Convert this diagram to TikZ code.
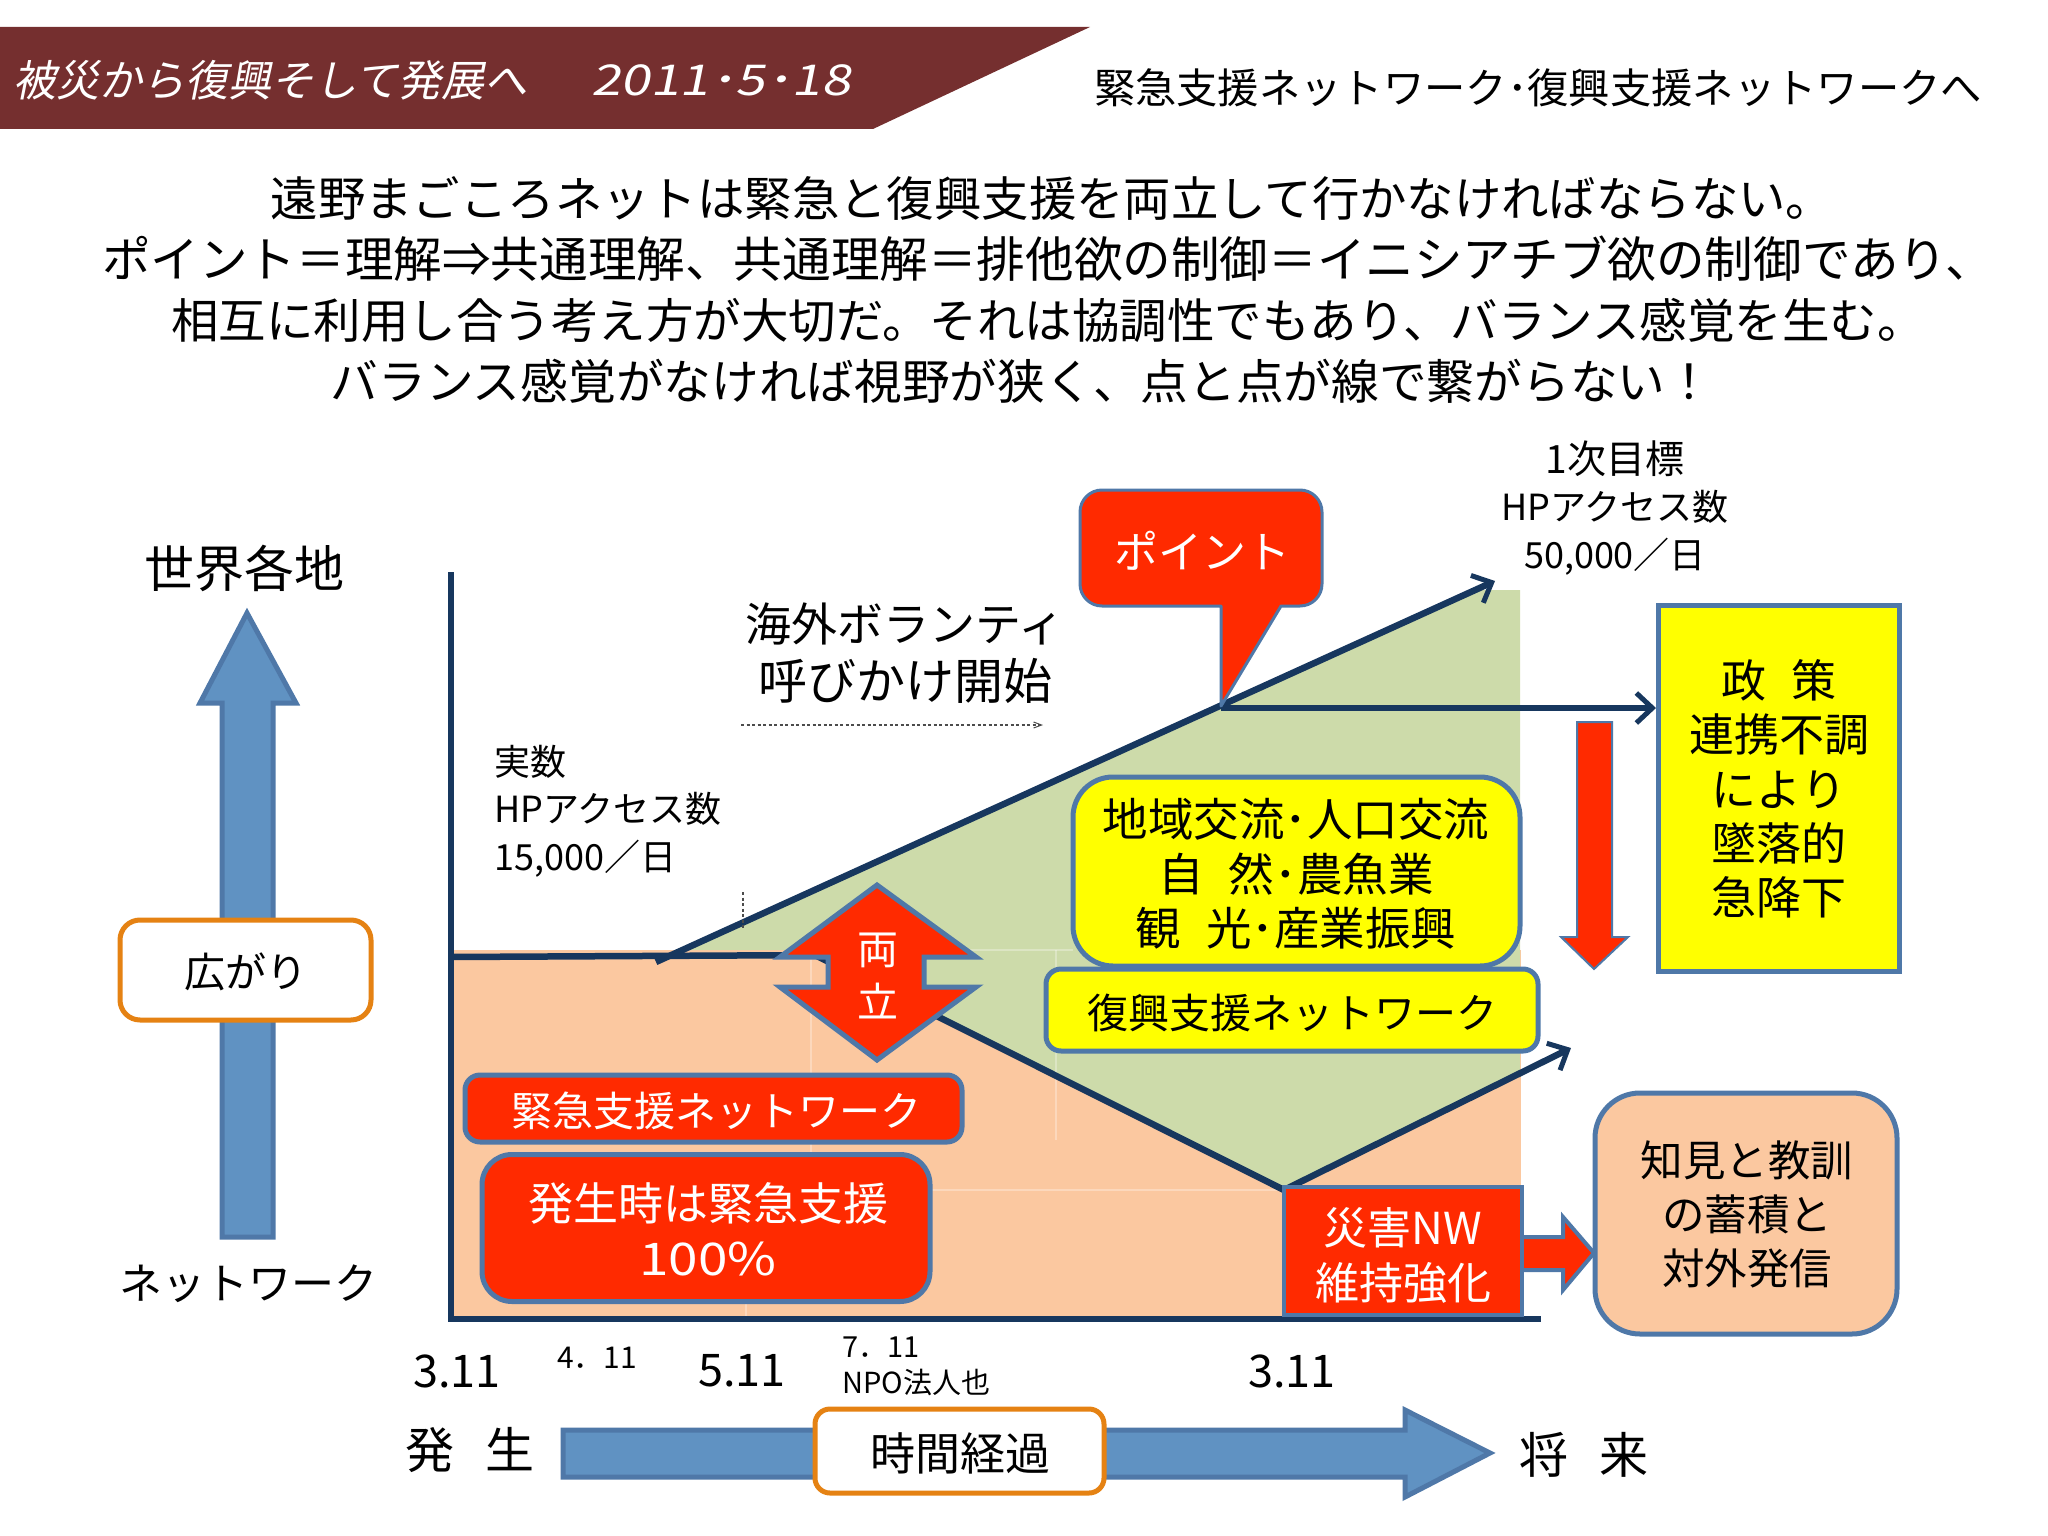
\documentclass[tikz,border=0pt]{standalone}
\usepackage{fontspec}
\setmainfont{Noto Sans CJK JP}
\newfontfamily\slantfont[FakeSlant=0.2]{Noto Sans CJK JP}
\newfontfamily\datefont[FakeSlant=0.2,FakeStretch=1.25]{Noto Sans CJK JP}
\newfontfamily\widefont[FakeStretch=1.18]{Noto Sans CJK JP}
\usetikzlibrary{arrows.meta}
\definecolor{navy}{HTML}{17375E}
\definecolor{edgeblue}{HTML}{4F78A8}
\definecolor{fillblue}{HTML}{6092C2}
\definecolor{alertred}{HTML}{FF2A00}
\definecolor{sigyellow}{HTML}{FFFF00}
\definecolor{peach}{HTML}{FBC8A0}
\definecolor{sage}{HTML}{CDDBAA}
\definecolor{wine}{HTML}{752F2F}
\definecolor{ringorange}{HTML}{E58213}
\newcommand{\fz}[2]{\fontsize{#1}{#2}\selectfont}
\tikzset{
  lbl/.style={inner sep=0pt,align=center,text=black},
  wlbl/.style={lbl,text=white},
  llbl/.style={inner sep=0pt,align=left,anchor=west,text=black},
  rbox/.style={draw=edgeblue,line width=5pt,fill=alertred,rounded corners=#1,inner sep=0pt},
  ybox/.style={draw=edgeblue,line width=5pt,fill=sigyellow,rounded corners=#1,inner sep=0pt},
  wbox/.style={draw=ringorange,line width=5pt,fill=white,rounded corners=#1,inner sep=0pt},
  navyline/.style={draw=navy,line width=6.5pt},
  barb/.style={navyline,-{Straight Barb[length=16pt,width=30pt,line width=5pt]}},
  blockblue/.style={draw=edgeblue,line width=5pt,fill=fillblue,line join=miter},
  blockred/.style={draw=edgeblue,line width=4pt,fill=alertred,line join=miter},
  faint/.style={draw=white,opacity=0.3,line width=1.5pt},
  dots/.style={draw=black!70,line width=1.5pt,dash pattern=on 3pt off 2.5pt}
}
\begin{document}
\begin{tikzpicture}[x=1pt,y=-1pt]
\useasboundingbox (0,0) rectangle (2048,1536);
% banner
\fill[wine] (0,27) -- (1090,27) -- (873,129) -- (0,129) -- cycle;
\node[wlbl,anchor=west,font=\fz{43}{50}\slantfont] (bannertitle) at (13,80) {被災から復興そして発展へ};
\node[wlbl,anchor=west,font=\fz{42.5}{50}\datefont] (bannerdate) at (591,80) {2011･5･18};
\node[lbl,font=\fz{41.3}{50}] (rtitle) at (1538,88) {緊急支援ネットワーク･復興支援ネットワークへ};
% paragraph
\node[lbl,font=\fz{47.4}{61}] (para1) at (1052,198) {遠野まごころネットは緊急と復興支援を両立して行かなければならない。};
\node[lbl,font=\fz{48.6}{61}] (para2) at (1048,259) {ポイント＝理解⇒共通理解、共通理解＝排他欲の制御＝イニシアチブ欲の制御であり、};
\node[lbl,font=\fz{47.5}{61}] (para3) at (1048,320) {相互に利用し合う考え方が大切だ。それは協調性でもあり、バランス感覚を生む。};
\node[lbl,font=\fz{47.7}{61}] (para4) at (1022,381) {バランス感覚がなければ視野が狭く、点と点が線で繋がらない！};
% chart fills
\fill[peach] (451,950) rectangle (1521,1318);
\fill[sage] (682,950) -- (1475,590) -- (1520,590) -- (1520,1073) -- (1284,1190) -- (938,1019) -- (830,950) -- cycle;
\draw[faint] (811,950) -- (811,1154);
\draw[faint] (746,1301) -- (746,1318);
\draw[faint] (930,1190) -- (1284,1190);
\draw[faint] (1056,950) -- (1056,1140);
\draw[faint] (940,950) -- (1073,950);
% axes
\coordinate (axtop) at (451,572);
\coordinate (axorig) at (451,1319);
\coordinate (axright) at (1541,1319);
\coordinate (flatL) at (451,957);
\coordinate (flatR) at (830,955);
\coordinate (riseA) at (656,962);
\coordinate (riseB) at (1495,581);
\coordinate (policyIn) at (1656,708);
\coordinate (pointH) at (1221,708);
\coordinate (vA) at (815,955);
\coordinate (vB) at (1284,1190);
\coordinate (vC) at (1571,1048);
\draw[navyline] (axtop) -- (axorig) -- (axright);
\draw[navyline] (flatL) -- (flatR);
\draw[barb] (riseA) -- (riseB);
\draw[navyline] (vA) -- (vB);
\draw[barb] (vB) -- (vC);
% dotted marks
\coordinate (dotA) at (741,725);
\coordinate (dotB) at (1043,725);
\coordinate (dotC) at (743,892);
\coordinate (dotD) at (743,928);
\draw[dots,-{Straight Barb[length=8pt,width=6pt,line width=1pt]}] (dotA) -- (dotB);
\draw[dots] (dotC) -- (dotD);
% policy arrow
\draw[barb] (pointH) -- (policyIn);
% callout
\draw[fill=alertred,draw=edgeblue,line width=3pt,line join=round]
  (1221,706) -- (1221,606) [rounded corners=22pt] -- (1080,606) -- (1080,490) -- (1322,490) -- (1322,606) [sharp corners] -- (1281,606) -- cycle;
\node[wlbl,font=\fz{44}{50}] (point) at (1202,551) {ポイント};
% left side
\draw[blockblue] (247,613) -- (296,703) -- (273,703) -- (273,1237) -- (222,1237) -- (222,703) -- (200,703) -- cycle;
\node[lbl,font=\fz{50}{60}] (world) at (244,568) {世界各地};
\node[wbox=20pt,minimum width=251pt,minimum height=100pt] (spread) at (245.5,970) {};
\node[lbl,font=\fz{41}{50}] (spreadtext) at (246,972) {広がり};
\node[lbl,font=\fz{43}{50}] (netw) at (248,1284) {ネットワーク};
% labels over the chart
\node[llbl,font=\fz{36}{47.5}] (actual) at (494,811) {実数\\HPアクセス数\\15,000／日};
\node[lbl,font=\fz{36}{47.5}] (target) at (1615,508) {{\fz{39}{47.5}1次目標}\\HPアクセス数\\50,000／日};
\node[lbl,font=\fz{46}{58}] (overseas) at (905,653) {海外ボランティ\\{\fz{49}{58}呼びかけ開始}};
% double arrow
\draw[blockred,line width=5pt] (877,885) -- (976,957) -- (924,957) -- (924,987) -- (976,987) -- (877,1060) -- (780,987) -- (828,987) -- (828,957) -- (780,957) -- cycle;
\node[wlbl,font=\fz{41}{53}] (both) at (878,976) {両\\立};
% yellow boxes
\node[ybox=40pt,minimum width=447pt,minimum height=189pt] (region) at (1296.5,871.5) {};
\node[lbl,font=\fz{45.5}{54.5}] (regiontext) at (1296,874) {地域交流･人口交流\\自\hspace{0.55em}然･農魚業\\観\hspace{0.55em}光･産業振興};
\node[ybox=15pt,minimum width=492pt,minimum height=82pt] (recnet) at (1292,1010) {};
\node[lbl,font=\fz{41}{50}] (recnettext) at (1292,1013) {復興支援ネットワーク};
\node[draw=edgeblue,line width=5pt,fill=sigyellow,inner sep=0pt,minimum width=241pt,minimum height=366pt] (policy) at (1778.5,788) {};
\node[lbl,font=\fz{45}{54.3}] (policytext) at (1779,789) {政\hspace{0.55em}策\\連携不調\\により\\墜落的\\急降下};
% red down arrow
\draw[blockred,line width=2pt] (1577,722) -- (1612,722) -- (1612,937) -- (1628,937) -- (1594,969) -- (1561,937) -- (1577,937) -- cycle;
% red boxes
\node[rbox=15pt,minimum width=497pt,minimum height=67pt] (emnet) at (713.5,1108.5) {};
\node[wlbl,font=\fz{41}{50}] (emnettext) at (716,1111) {緊急支援ネットワーク};
\node[rbox=30pt,minimum width=448pt,minimum height=147pt] (emfirst) at (706,1228) {};
\node[wlbl,font=\fz{45}{55}] (emfirsttext) at (708,1229) {発生時は緊急支援\\{\widefont 100\%}};
\node[draw=edgeblue,line width=4pt,fill=alertred,inner sep=0pt,minimum width=238pt,minimum height=128pt] (dmnet) at (1403,1251) {};
\node[wlbl,font=\fz{44}{55}] (dmnettext) at (1403,1255) {災害NW\\維持強化};
% peach box
\node[draw=edgeblue,line width=5pt,fill=peach,rounded corners=45pt,inner sep=0pt,minimum width=302pt,minimum height=241pt] (lesson) at (1746,1213.5) {};
\node[lbl,font=\fz{42.5}{54}] (lessontext) at (1747,1214) {知見と教訓\\の蓄積と\\対外発信};
% small red arrow
\draw[blockred,line width=4pt] (1524,1237) -- (1563,1237) -- (1563,1217) -- (1594,1253) -- (1563,1290) -- (1563,1270) -- (1524,1270);
% dates
\node[lbl,font=\fz{45}{50}] (d1) at (457,1371) {3.11};
\node[lbl,font=\fz{30}{32}] (d2) at (597,1358) {4．11};
\node[lbl,font=\fz{45}{50}] (d3) at (742,1371) {5.11};
\node[llbl,font=\fz{29}{36}] (d4) at (842,1366) {7．11\\NPO法人也};
\node[lbl,font=\fz{45}{50}] (d5) at (1292,1371) {3.11};
% time row
\draw[blockblue] (563,1430) -- (1405,1430) -- (1405,1410) -- (1490,1453) -- (1405,1497) -- (1405,1477) -- (563,1477) -- cycle;
\node[lbl,font=\fz{49}{55}] (start) at (470,1450) {発\hspace{0.65em}生};
\node[wbox=15pt,minimum width=289pt,minimum height=84pt] (elapsed) at (959.5,1451) {};
\node[lbl,font=\fz{45}{52}] (elapsedtext) at (960,1453) {時間経過};
\node[lbl,font=\fz{49}{55}] (future) at (1584,1455) {将\hspace{0.65em}来};
\end{tikzpicture}
\end{document}
